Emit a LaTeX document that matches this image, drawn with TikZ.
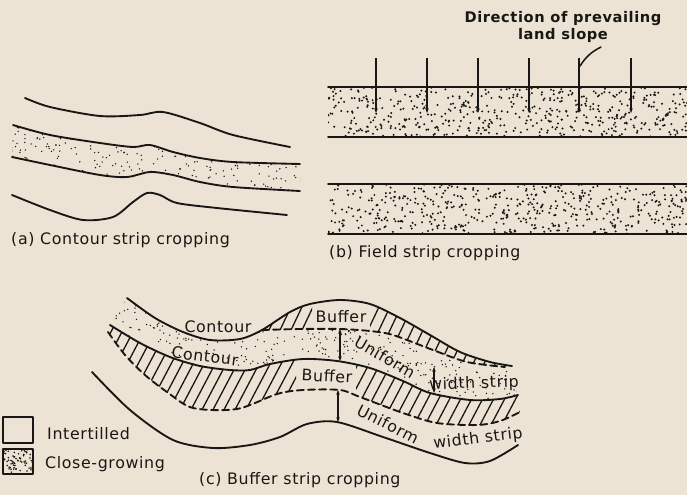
\documentclass[tikz,border=0pt]{standalone}
\usepackage{fontspec}
\setmainfont{DejaVu Sans}[LetterSpace=4]
\usetikzlibrary{arrows.meta,calc}
\definecolor{PaperClr}{rgb}{0.929,0.890,0.831}
\definecolor{InkClr}{rgb}{0.1,0.09,0.08}

% random stipple in a box: x0, y0, width, height, count, dot radius
\newcommand{\Stipple}[6]{%
  \foreach \i in {1,...,#5}{\fill[InkClr] ({#1+rnd*#3},{#2+rnd*#4}) circle (#6);}}

\begin{document}
\begin{tikzpicture}[x=0.03cm,y=-0.03cm,
  contour/.style={InkClr,line width=1.6pt,line cap=round,line join=round},
  buffer/.style={contour,dash pattern=on 6pt off 3.5pt},
  hatch/.style={InkClr,line width=1.1pt},
  gap/.style={InkClr,line width=1pt,{Stealth[length=4pt,width=3pt]}-{Stealth[length=4pt,width=3pt]}},
  txt/.style={font=\fontsize{13.5}{15}\selectfont,text=InkClr,inner sep=0pt}]
\pgfmathsetseed{4711}

\fill[PaperClr] (0,0) rectangle (687,495);
\useasboundingbox (0,0) rectangle (687,495);

% (a) contour strips
\begin{scope}
\clip plot[smooth] coordinates {(13,125) (50,135) (100,143) (133,147) (150,145) (173,152) (200,158) (233,162) (300,164)}
  -- plot[smooth] coordinates {(300,191) (233,187) (200,182) (173,175) (150,172) (127,177) (100,175) (50,165) (12,157)} -- cycle;
\Stipple{10}{120}{295}{75}{420}{0.65pt}
\end{scope}
\draw[contour] plot[smooth] coordinates {(25,98) (50,107) (100,116) (140,115) (163,112) (200,123) (233,135) (290,147)};
\draw[contour] plot[smooth] coordinates {(13,125) (50,135) (100,143) (133,147) (150,145) (173,152) (200,158) (233,162) (300,164)};
\draw[contour] plot[smooth] coordinates {(12,157) (50,165) (100,175) (127,177) (150,172) (173,175) (200,182) (233,187) (300,191)};
\draw[contour] plot[smooth] coordinates {(12,195) (50,210) (83,220) (113,217) (133,202) (147,193) (160,195) (177,203) (217,208) (287,215)};
\node[txt,anchor=west] (capA) at (11,240) {(a) Contour strip cropping};

% (b) field strips
\foreach \y in {87,184}{
  \begin{scope}
  \clip (328,\y) rectangle (687,{\y+50});
  \Stipple{328}{\y}{359}{50}{520}{0.95pt}
  \end{scope}}
\foreach \y in {87,137,184,234}
  \draw[contour] (328,\y) -- (687,\y);
\foreach \x in {376,427,478,529,579,631}
  \draw[InkClr,line width=1.4pt,-{Stealth[length=4pt,width=3pt]}] (\x,58) -- (\x,113);
\node[txt,font=\fontsize{12.5}{14.5}\selectfont\bfseries,align=center] (slope) at (563,27) {Direction of prevailing\\land slope};
\coordinate (hook) at (601,47);
\coordinate (tip) at (580,66);
\draw[contour,line width=1.3pt] (hook) to[bend right=15] (tip);
\node[txt,anchor=west] (capB) at (329,253) {(b) Field strip cropping};

% (c) buffer strips
\begin{scope}
\clip plot[smooth] coordinates {(127,298) (155,318) (183,332) (210,340) (240,339) (262,330)}
  -- plot[smooth] coordinates {(262,330) (300,329) (340,329) (370,331) (393,335) (433,350) (467,362) (505,367)}
  -- plot[smooth] coordinates {(518,395) (500,399) (470,400) (430,393) (403,381) (370,368) (337,361) (303,359) (270,364) (250,370) (230,370) (200,366) (170,357) (140,343) (110,325)} -- cycle;
\Stipple{105}{292}{420}{112}{800}{0.65pt}
\end{scope}

\begin{scope}
\clip plot[smooth] coordinates {(262,330) (290,312) (310,304) (340,300) (370,304) (400,318) (430,335) (460,352) (490,362) (512,366)}
  -- plot[smooth] coordinates {(505,367) (467,362) (433,350) (393,335) (370,331) (340,329) (300,329) (262,330)} -- cycle;
\clip (262,280) rectangle (312,380) (370,280) rectangle (530,380);
\foreach \x in {0,11,...,540}
  \draw[hatch] (\x,480) -- ++(90,-190);
\end{scope}

\begin{scope}
\clip plot[smooth] coordinates {(110,325) (140,343) (170,357) (200,366) (230,370) (250,370) (270,364) (303,359) (337,361) (370,368) (403,381) (430,393) (470,400) (500,399) (518,395)}
  -- plot[smooth] coordinates {(520,412) (500,421) (477,425) (437,423) (403,413) (360,397) (340,390) (303,390) (277,394) (237,409) (193,408) (167,392) (145,375) (125,355) (108,332)} -- cycle;
\clip (90,300) rectangle (296,430) (356,300) rectangle (530,430);
\foreach \x in {0,11,...,540}
  \draw[hatch] (\x,480) -- ++(100,-190);
\end{scope}

\draw[contour] plot[smooth] coordinates {(127,298) (155,318) (183,332) (210,340) (240,339) (262,330) (290,312) (310,304) (340,300) (370,304) (400,318) (430,335) (460,352) (490,362) (512,366)};
\draw[buffer] plot[smooth] coordinates {(262,330) (300,329) (340,329) (370,331) (393,335) (433,350) (467,362) (505,367)};
\draw[contour] plot[smooth] coordinates {(110,325) (140,343) (170,357) (200,366) (230,370) (250,370) (270,364) (303,359) (337,361) (370,368) (403,381) (430,393) (470,400) (500,399) (518,395)};
\draw[buffer] plot[smooth] coordinates {(108,332) (125,355) (145,375) (167,392) (193,408) (237,409) (277,394) (303,390) (340,390) (360,397) (403,413) (437,423) (477,425) (500,421) (520,412)};
\draw[contour] plot[smooth] coordinates {(92,372) (130,410) (173,440) (213,448) (250,445) (280,437) (307,424) (337,422) (383,437) (430,453) (465,463) (490,461) (518,445)};

\coordinate (u1) at (340,329);
\coordinate (u2) at (340,361);
\coordinate (w1) at (434,367);
\coordinate (w2) at (434,393);
\coordinate (l1) at (338,390);
\coordinate (l2) at (338,422);
\draw[gap] (u1) -- (u2);
\draw[gap] (w1) -- (w2);
\draw[gap] (l1) -- (l2);

\node[txt] (contA) at (218,327) {Contour};
\node[txt,rotate=-7] (contB) at (205,356) {Contour};
\node[txt] (bufA) at (341,317) {Buffer};
\node[txt,rotate=-3] (bufB) at (327,376) {Buffer};
\node[txt,rotate=-30] (uniA) at (385,357) {Uniform};
\node[txt,rotate=2] (widA) at (474,384) {width strip};
\node[txt,rotate=-27] (uniB) at (388,424) {Uniform};
\node[txt,rotate=7] (widB) at (478,439) {width strip};

% legend
\draw[contour,line width=1.3pt] (3,417) rectangle (33,443);
\begin{scope}
\clip (3,449) rectangle (33,474);
\Stipple{3}{449}{30}{25}{75}{0.75pt}
\end{scope}
\draw[contour,line width=1.3pt] (3,449) rectangle (33,474);
\node[txt,anchor=west] (intt) at (47,434) {Intertilled};
\node[txt,anchor=west] (close) at (45,464) {Close-growing};
\node[txt,anchor=west] (capC) at (199,480) {(c) Buffer strip cropping};

\end{tikzpicture}
\end{document}
